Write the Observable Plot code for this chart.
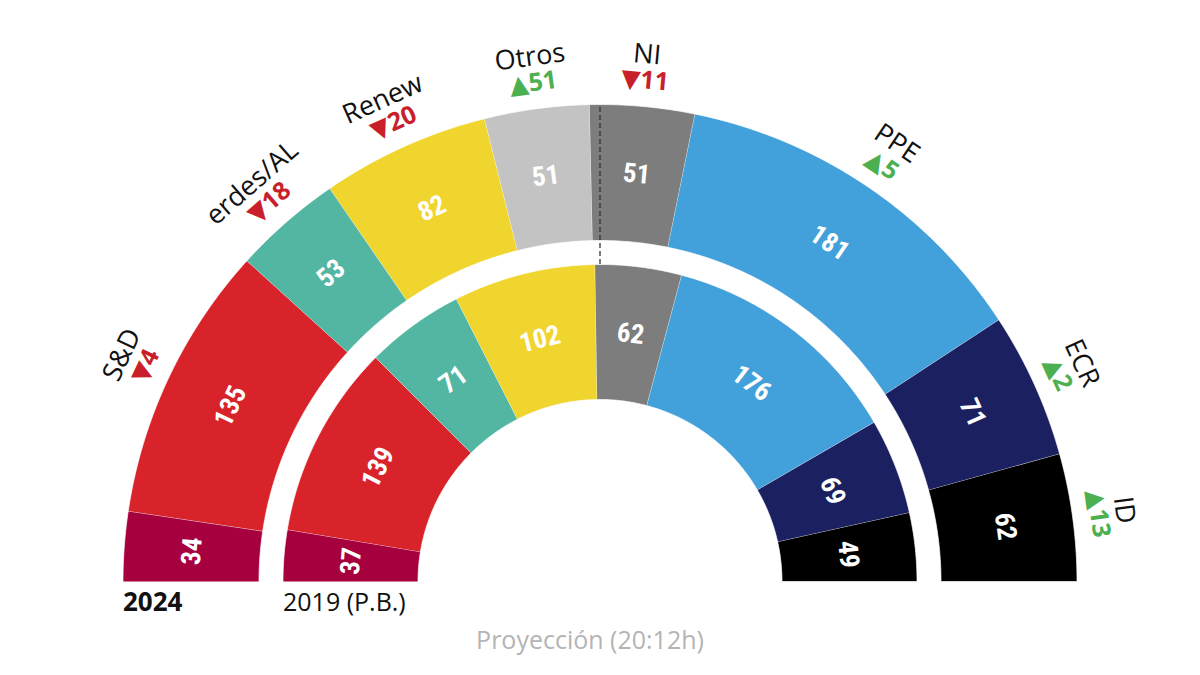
<!DOCTYPE html>
<html><head><meta charset="utf-8">
<script src="https://cdn.jsdelivr.net/npm/d3@7"></script>
<script src="https://cdn.jsdelivr.net/npm/@observablehq/plot@0.6"></script>
<style>html,body{margin:0;padding:0;background:#fff;} #chart svg{display:block}</style>
</head><body><div id="chart"></div>
<script>
// ---- data ----
const parties = ["GUE/NGL", "S&D", "Verdes/AL", "Renew", "Otros", "NI", "PPE", "ECR", "ID"];
const partyLabels = ["", "S&D", "erdes/AL", "Renew", "Otros", "NI", "PPE", "ECR", "ID"];
const seats2024 = [34, 135, 53, 82, 51, 51, 181, 71, 62];
const seats2019 = [37, 139, 71, 102, 0, 62, 176, 69, 49];
const partyColors = ["#a6003f", "#d9232b", "#52b6a2", "#f1d52f", "#c3c3c3", "#7d7d7d", "#42a0da", "#1b2060", "#000000"];
const ringLabels = ["2024", "2019 (P.B.)"];
const footerText = ["Proyección (20:12h)"];
const upColor = "#4caf50", downColor = "#c81f2b";

// ---- geometry (units: outer radius = 1, centre at origin) ----
const K = 477;
const rings = [
  {label: ringLabels[0], seats: seats2024, r0: 341 / K, r1: 1, bold: true},
  {label: ringLabels[1], seats: seats2019, r0: 182 / K, r1: 317 / K, bold: false}
];

const polys = [], nums = [], outer = [];
rings.forEach((ring, ri) => {
  const total = d3.sum(ring.seats);
  let cum = 0;
  ring.seats.forEach((v, i) => {
    if (!v) return;
    const a0 = Math.PI * (1 - cum / total), a1 = Math.PI * (1 - (cum + v) / total);
    const n = Math.max(4, Math.ceil(Math.abs(a1 - a0) * 180 / Math.PI / 0.5));
    const key = ri + "-" + i;
    for (let j = 0; j <= n; j++) { const a = a0 + (a1 - a0) * j / n; polys.push({key, x: ring.r1 * Math.cos(a), y: ring.r1 * Math.sin(a), color: partyColors[i]}); }
    for (let j = n; j >= 0; j--) { const a = a0 + (a1 - a0) * j / n; polys.push({key, x: ring.r0 * Math.cos(a), y: ring.r0 * Math.sin(a), color: partyColors[i]}); }
    const am = (a0 + a1) / 2, rm = (ring.r0 + ring.r1) / 2;
    nums.push({x: rm * Math.cos(am), y: rm * Math.sin(am), rotate: 90 - am * 180 / Math.PI, text: String(v)});
    if (ri === 0 && partyLabels[i]) {
      const d = seats2024[i] - seats2019[i];
      outer.push({am, name: partyLabels[i], change: (d >= 0 ? "▲" : "▼") + Math.abs(d), color: d >= 0 ? upColor : downColor});
    }
    cum += v;
  });
});
const rName = 529 / K, rChange = 503 / K;
const nameData = outer.map(o => ({x: rName * Math.cos(o.am), y: rName * Math.sin(o.am), rotate: 90 - o.am * 180 / Math.PI, text: o.name}));
const changeData = outer.map(o => ({x: rChange * Math.cos(o.am), y: rChange * Math.sin(o.am), rotate: 90 - o.am * 180 / Math.PI, text: o.change, color: o.color}));
const ringText = rings.map(r => ({x: -r.r1, y: -21 / K, text: r.label, bold: r.bold}));
const footData = footerText.map(t => ({x: -10 / K, y: -59 / K, text: t}));

const chart = Plot.plot({
  width: 1200, height: 675, margin: 0,
  x: {domain: [-599.5 / K, 600.5 / K], axis: null},
  y: {domain: [-(675 - 581) / K, 581 / K], axis: null},
  color: {type: "identity"},
  style: {background: "#fff"},
  marks: [
    Plot.line(polys, {x: "x", y: "y", z: "key", fill: "color", stroke: "white", strokeWidth: 0.7, curve: "linear"}),
    Plot.ruleX([{x: 0, y1: 317 / K, y2: 1}], {x: "x", y1: "y1", y2: "y2", stroke: "#333", strokeWidth: 1.3, strokeDasharray: "5,3"}),
    Plot.text(nums, {x: "x", y: "y", text: "text", rotate: "rotate", fill: "white", fontSize: 27, fontWeight: "bold", fontFamily: "'Liberation Sans Narrow', 'Roboto Condensed', Roboto, sans-serif", lineAnchor: "middle"}),
    Plot.text(nameData, {x: "x", y: "y", text: "text", rotate: "rotate", fill: "#111", fontSize: 27, fontFamily: "'Open Sans', sans-serif", lineAnchor: "middle"}),
    Plot.text(changeData, {x: "x", y: "y", text: "text", rotate: "rotate", fill: "color", fontSize: 25, fontWeight: "bold", fontFamily: "'Open Sans', 'DejaVu Sans', sans-serif", lineAnchor: "middle"}),
    Plot.text(ringText.filter(d => d.bold), {x: "x", y: "y", text: "text", textAnchor: "start", lineAnchor: "middle", fill: "#111", fontSize: 26, fontWeight: "bold", fontFamily: "'Open Sans', sans-serif"}),
    Plot.text(ringText.filter(d => !d.bold), {x: "x", y: "y", text: "text", textAnchor: "start", lineAnchor: "middle", fill: "#111", fontSize: 25, fontFamily: "'Open Sans', sans-serif"}),
    Plot.text(footData, {x: "x", y: "y", text: "text", textAnchor: "middle", lineAnchor: "middle", fill: "#b4b4b4", fontSize: 25, fontFamily: "'Open Sans', sans-serif"})
  ]
});
document.getElementById("chart").appendChild(chart);
</script>
</body></html>
